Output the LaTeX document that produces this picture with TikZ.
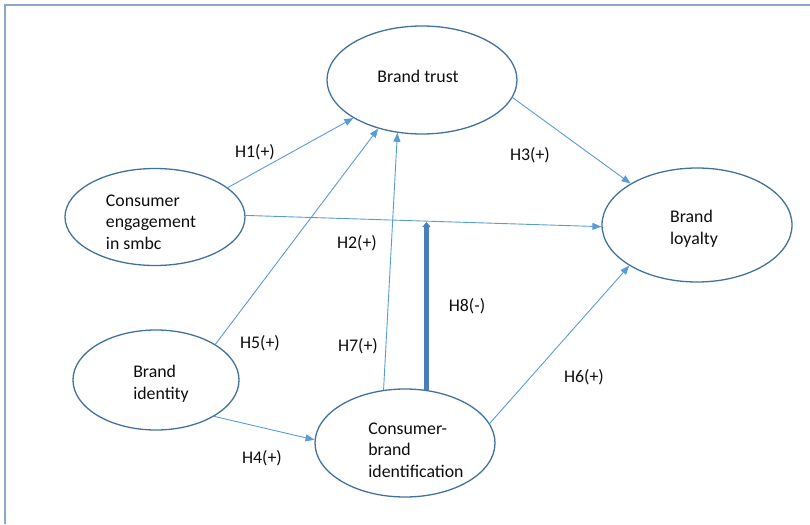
\documentclass[tikz,border=0pt]{standalone}
\usepackage{fontspec}
\setmainfont{Carlito}
\usetikzlibrary{shapes.geometric,arrows.meta}
\definecolor{ellcol}{HTML}{41719C}
\definecolor{arrcol}{HTML}{5B9BD5}
\definecolor{thickcol}{HTML}{4A7EBB}
\definecolor{framecol}{HTML}{8FA8C8}
\definecolor{txtcol}{HTML}{0D0D0D}
\tikzset{
  ell/.style={ellipse, draw=ellcol, line width=1.3pt, inner sep=0pt},
  txt/.style={align=left, inner sep=0pt, text=txtcol, font=\fontsize{17.8}{21.7}\selectfont},
  hlab/.style={inner sep=0pt, text=txtcol, font=\fontsize{17.8}{21}\selectfont},
  link/.style={draw=arrcol, line width=0.9pt, -{Triangle[length=9pt,width=7pt]}},
  thicklink/.style={draw=thickcol, line width=4.2pt, -{Triangle[length=5pt,width=8pt]}},
  framel/.style={draw=framecol, line width=1.5pt}
}
\begin{document}
\begin{tikzpicture}[x=1pt,y=-1pt]
\useasboundingbox (0,0) rectangle (810,524);
\coordinate (fbl) at (5,524);
\coordinate (ftl) at (5,5);
\coordinate (ftr) at (810,5);
\draw[framel] (fbl) -- (ftl) -- (ftr);

% ellipses
\node[ell, minimum width=190pt, minimum height=108pt] (bt) at (422,80) {};
\node[ell, minimum width=180pt, minimum height=97pt] (ce) at (155,217) {};
\node[ell, minimum width=190pt, minimum height=114pt] (bl) at (697,225) {};
\node[ell, minimum width=166pt, minimum height=100pt] (bi) at (156,380) {};
\node[ell, minimum width=180pt, minimum height=108pt] (cbi) at (405,443) {};

% texts
\node[txt] (btt) at (418,76) {Brand trust};
\node[txt] (cet) at (151,222) {Consumer\\engagement\\in smbc};
\node[txt] (blt) at (694,229) {Brand\\loyalty};
\node[txt] (bit) at (161,384) {Brand\\identity};
\node[txt] (cbit) at (416,450) {Consumer-\\brand\\identification};

% connectors
\draw[link] (ce.22) -- (bt.209);
\draw[link] (ce.1) -- (bl.181);
\draw[link] (bi.31) -- (bt.228);
\draw[link] (cbi.112) -- (bt.245.6);
\draw[link] (bt.349.4) -- (bl.148.7);
\draw[link] (cbi.13.2) -- (bl.211.6);
\draw[link] (bi.328) -- (cbi.178);
\coordinate (h8end) at (425,222);
\draw[thicklink] (cbi.68.6) -- (cbi.68.6 |- h8end);

% labels
\node[hlab] (h1) at (255,152) {H1(+)};
\node[hlab] (h2) at (357,243) {H2(+)};
\node[hlab] (h3) at (530,155) {H3(+)};
\node[hlab] (h4) at (262,458) {H4(+)};
\node[hlab] (h5) at (260,343) {H5(+)};
\node[hlab] (h6) at (584,377) {H6(+)};
\node[hlab] (h7) at (358,346) {H7(+)};
\node[hlab] (h8) at (467,306) {H8(-)};
\end{tikzpicture}
\end{document}
